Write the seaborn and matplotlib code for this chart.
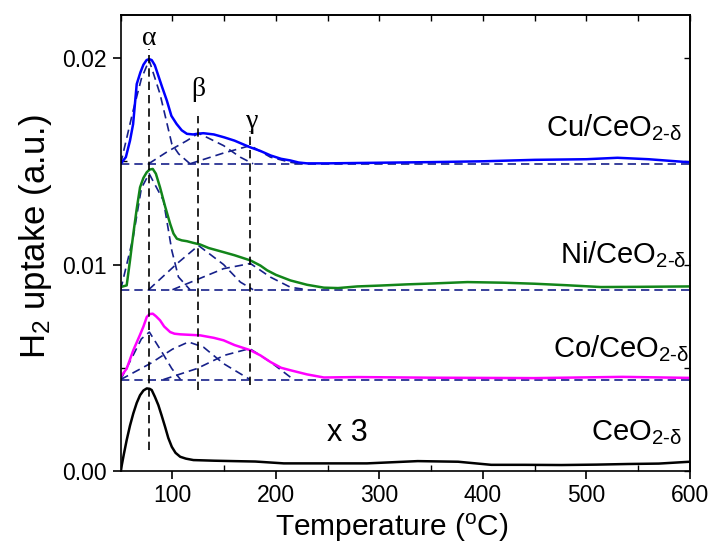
import matplotlib
matplotlib.use("Agg")
import matplotlib.pyplot as plt
import seaborn as sns
import numpy as np
import pandas as pd
from matplotlib.ticker import MultipleLocator, FormatStrFormatter
from matplotlib import font_manager

# ---------------- data ----------------
cu_T = [50, 55, 59, 62, 65.5, 69, 72, 75, 77.5, 80, 83, 86, 90, 94.6, 99, 104, 109, 114,
        120, 125, 130, 140, 150, 160, 175, 185, 195, 205, 214, 222, 230, 250, 300, 350,
        400, 450, 500, 530, 560, 600]
cu_V = [0.01488, 0.01520, 0.0160, 0.0168, 0.01874, 0.0193, 0.01968, 0.01990, 0.01995,
        0.01990, 0.01965, 0.0192, 0.0186, 0.01794, 0.0172, 0.01681, 0.01650, 0.01633,
        0.01630, 0.01634, 0.01636, 0.0163, 0.01616, 0.0160, 0.01568, 0.0155, 0.01528,
        0.01512, 0.01504, 0.01494, 0.0149, 0.01490, 0.01493, 0.01496, 0.01500, 0.01507,
        0.0151, 0.01517, 0.0151, 0.01495]

ni_T = [50, 55.8, 59, 62.2, 65.5, 68.7, 72, 75.2, 78, 81, 84, 88, 93, 97.8, 101, 104.3,
        109, 114, 120, 126.8, 135, 149.4, 160, 175.3, 185, 191.5, 200, 214, 230, 246.3,
        260, 278.7, 300, 327, 350, 385, 420, 450, 480, 514, 550, 600]
ni_V = [0.00891, 0.00899, 0.0102, 0.01149, 0.0127, 0.01374, 0.0142, 0.01447, 0.0146,
        0.01463, 0.0144, 0.01374, 0.0128, 0.01197, 0.0115, 0.01125, 0.01117, 0.01113,
        0.01105, 0.01097, 0.0108, 0.0106, 0.01045, 0.0102, 0.00995, 0.00972, 0.0095,
        0.00923, 0.00902, 0.00888, 0.00886, 0.00894, 0.00898, 0.00904, 0.00908, 0.00915,
        0.00912, 0.00907, 0.0090, 0.00891, 0.00892, 0.00894]

co_T = [50, 55.8, 62.2, 68.7, 72, 75.2, 78, 81, 84, 88, 92, 97.8, 102, 107.5, 115, 126.8,
        140, 149.4, 160, 175.3, 185, 194.7, 205, 214, 230, 246.3, 278.7, 350, 450, 535, 600]
co_V = [0.00456, 0.00496, 0.00585, 0.0066, 0.0070, 0.00746, 0.0076, 0.00762, 0.0075,
        0.0073, 0.0070, 0.00673, 0.00665, 0.00662, 0.0066, 0.00657, 0.00645, 0.00633,
        0.0061, 0.00585, 0.0056, 0.00528, 0.0050, 0.00488, 0.00468, 0.00453, 0.00455,
        0.00452, 0.0045, 0.00456, 0.00451]

ce_T = [50, 53, 55.8, 59, 62.2, 65.5, 68.7, 72, 75.2, 78, 80, 83, 86.4, 89.5, 92.9, 96,
        99.4, 103, 107.5, 113, 120.3, 140, 159, 180, 207.6, 240, 288, 337, 376, 408, 440,
        476, 510, 540, 570, 600]
ce_V = [0.0, 0.0008, 0.0015, 0.0022, 0.00279, 0.0033, 0.00367, 0.0039, 0.0040, 0.00398,
        0.00392, 0.0036, 0.00319, 0.0027, 0.00214, 0.0016, 0.00117, 0.00088, 0.00069,
        0.0006, 0.00053, 0.0005, 0.00048, 0.00046, 0.00037, 0.00037, 0.00037, 0.00048,
        0.00045, 0.0003, 0.0003, 0.00029, 0.00031, 0.00034, 0.00036, 0.00045]

# deconvolution components (dashed)
cu_a_T = [50, 62, 70, 77.5, 88, 99.4, 106, 117]
cu_a_V = [0.01488, 0.01745, 0.0190, 0.0199, 0.01826, 0.01584, 0.01536, 0.01488]
cu_b_T = [77, 94.6, 114, 125.2, 149.4, 165.5, 178]
cu_b_V = [0.01488, 0.01545, 0.0160, 0.01636, 0.01576, 0.0152, 0.01488]
cu_g_T = [117, 149.4, 175.3, 194.7, 214, 225]
cu_g_V = [0.01488, 0.0154, 0.01576, 0.0152, 0.01495, 0.01488]

ni_a_T = [50, 62, 70, 77.5, 91.3, 99.4, 105.8, 117]
ni_a_V = [0.00878, 0.0113, 0.0137, 0.0144, 0.0131, 0.01068, 0.0094, 0.00878]
ni_b_T = [77, 104.3, 125.2, 149.4, 165.6, 178]
ni_b_V = [0.00878, 0.01004, 0.01092, 0.0100, 0.00915, 0.00878]
ni_g_T = [100, 149.4, 175.3, 194.7, 214, 230]
ni_g_V = [0.00878, 0.0098, 0.01005, 0.00939, 0.0089, 0.00878]

co_a_T = [50, 62, 70, 77.7, 89.7, 99.4, 107.8]
co_a_V = [0.00443, 0.0056, 0.0064, 0.00673, 0.00577, 0.00496, 0.00443]
co_b_T = [50, 78.4, 100, 115.5, 130, 149.4, 175]
co_b_V = [0.00443, 0.0052, 0.0059, 0.00625, 0.0060, 0.0052, 0.00443]
co_g_T = [91.3, 123.6, 150, 174.6, 194.7, 217]
co_g_V = [0.00443, 0.00496, 0.0056, 0.00593, 0.00528, 0.00443]

baselines = [0.01488, 0.00878, 0.00443]

peak_T = [77.5, 124.8, 174.6]
peak_top = [0.02045, 0.0172, 0.01649]
peak_bottom = [0.00102, 0.0039, 0.00416]
peak_names = ["α", "β", "γ"]
peak_label_T = [77.5, 125.0, 177.0]
peak_label_V = [0.02096, 0.01848, 0.01692]

sample_names = [r"Cu/CeO$_{2\text{-}\delta}$", r"Ni/CeO$_{2\text{-}\delta}$",
                r"Co/CeO$_{2\text{-}\delta}$", r"CeO$_{2\text{-}\delta}$"]
sample_label_T = [592, 597, 599, 592]
sample_label_V = [0.0162, 0.01006, 0.00551, 0.0015]

# ---------------- style ----------------
sns.set_style("ticks")
plt.rcParams["font.family"] = ["Liberation Sans", "DejaVu Sans"]
plt.rcParams["mathtext.fontset"] = "custom"
plt.rcParams["mathtext.rm"] = "Liberation Sans"
plt.rcParams["mathtext.it"] = "Liberation Serif"
plt.rcParams["mathtext.default"] = "regular"
plt.rcParams["text.color"] = "black"
plt.rcParams["axes.labelcolor"] = "black"
plt.rcParams["xtick.color"] = "black"
plt.rcParams["ytick.color"] = "black"

names = {f.name for f in font_manager.fontManager.ttflist}
if "Liberation Sans Narrow" in names:
    narrow = "Liberation Sans Narrow"
    tick_size, xlab_size = 19.5, 25.5
elif "DejaVu Sans Condensed" in names:
    narrow = "DejaVu Sans Condensed"
    tick_size, xlab_size = 17, 22
else:
    narrow = "Liberation Sans"
    tick_size, xlab_size = 16.5, 21.5

fig = plt.figure(figsize=(7.12, 5.5), dpi=100)
ax = fig.add_axes([0.1695, 0.1436, 0.7995, 0.8297])

navy = "#16208a"
dash = (5, 3)

def line(T, V, color, lw=1.6, dashed=False):
    df = pd.DataFrame({"T": T, "V": V})
    sns.lineplot(data=df, x="T", y="V", ax=ax, color=color, lw=lw,
                 estimator=None, sort=False)
    if dashed:
        ax.lines[-1].set_dashes(dash)

for b in baselines:
    ax.axhline(b, color=navy, lw=1.2, dashes=dash, zorder=1)

for T, V in [(cu_a_T, cu_a_V), (cu_b_T, cu_b_V), (cu_g_T, cu_g_V),
             (ni_a_T, ni_a_V), (ni_b_T, ni_b_V), (ni_g_T, ni_g_V),
             (co_a_T, co_a_V), (co_b_T, co_b_V), (co_g_T, co_g_V)]:
    line(T, V, navy, lw=1.2, dashed=True)

line(cu_T, cu_V, "#0000ff", lw=1.8)
line(ni_T, ni_V, "#12851a", lw=1.8)
line(co_T, co_V, "#ff00ff", lw=1.8)
line(ce_T, ce_V, "black", lw=1.8)

ax.vlines(peak_T, peak_bottom, peak_top, colors="black", lw=1.2,
          linestyles=(0, (5, 3)), zorder=4)

for n, x, y in zip(peak_names, peak_label_T, peak_label_V):
    ax.text(x, y, n, ha="center", va="center", fontsize=20, color="black",
            family=["Liberation Serif", "DejaVu Serif"])

for n, x, y in zip(sample_names, sample_label_T, sample_label_V):
    ax.text(x, y, n, ha="right", va="baseline", fontsize=21, color="black")

ax.text(269, 0.00147, "x 3", ha="center", va="baseline", fontsize=22, color="black")

ax.set_xlim(50, 600)
ax.set_ylim(0, 0.0221)
ax.xaxis.set_major_locator(MultipleLocator(100))
ax.xaxis.set_minor_locator(MultipleLocator(50))
ax.yaxis.set_major_locator(MultipleLocator(0.01))
ax.yaxis.set_minor_locator(MultipleLocator(0.005))
ax.yaxis.set_major_formatter(FormatStrFormatter("%.2f"))
ax.tick_params(which="major", direction="out", length=6, width=1.2,
               colors="black", pad=4)
ax.tick_params(which="minor", direction="in", length=4, width=1.0, colors="black")
ax.tick_params(axis="x", which="major", pad=3)
for lab in ax.get_xticklabels() + ax.get_yticklabels():
    lab.set_family([narrow, "Liberation Sans"])
    lab.set_fontsize(tick_size)

sec_x = ax.secondary_xaxis("top")
sec_x.xaxis.set_major_locator(MultipleLocator(50))
sec_x.tick_params(direction="in", length=4, width=1.0, labeltop=False, colors="black")
sec_y = ax.secondary_yaxis("right")
sec_y.yaxis.set_major_locator(MultipleLocator(0.005))
sec_y.tick_params(direction="in", length=4, width=1.0, labelright=False, colors="black")

for s in ax.spines.values():
    s.set_visible(True)
    s.set_linewidth(1.2)
    s.set_color("black")
for s in list(sec_x.spines.values()) + list(sec_y.spines.values()):
    s.set_linewidth(1.2)
    s.set_color("black")

ax.set_xlabel(r"Temperature ($^{\mathrm{o}}$C)", fontsize=xlab_size,
              family=[narrow, "Liberation Sans"], color="black")
ax.set_ylabel(r"H$_2$ uptake (a.u.)", fontsize=25, color="black")
ax.xaxis.set_label_coords(0.477, -0.09)
ax.yaxis.set_label_coords(-0.117, 0.513)

fig.savefig("out.png", dpi=100)
